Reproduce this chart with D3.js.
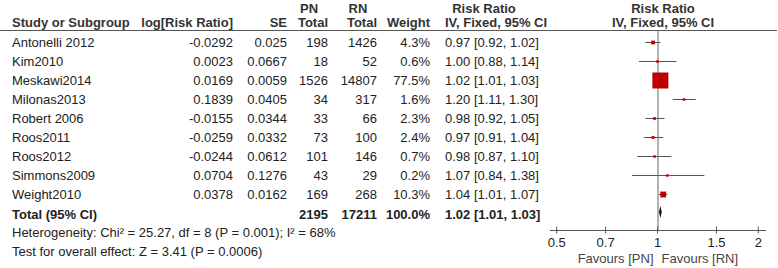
<!DOCTYPE html>
<html><head><meta charset="utf-8">
<script src="https://cdn.jsdelivr.net/npm/d3@7"></script>
<style>
body{margin:0;background:#fff;}
text{font-family:"Liberation Sans",Arial,sans-serif;font-size:13px;fill:#222;}
</style></head>
<body><svg id="c" width="778" height="268"></svg>
<script>
const studies = ["Antonelli 2012","Kim2010","Meskawi2014","Milonas2013","Robert 2006","Roos2011","Roos2012","Simmons2009","Weight2010"];
const logRR = ["-0.0292","0.0023","0.0169","0.1839","-0.0155","-0.0259","-0.0244","0.0704","0.0378"];
const seVals = ["0.025","0.0667","0.0059","0.0405","0.0344","0.0332","0.0612","0.1276","0.0162"];
const pnTotal = [198,18,1526,34,33,73,101,43,169];
const rnTotal = [1426,52,14807,317,66,100,146,29,268];
const weights = [4.3,0.6,77.5,1.6,2.3,2.4,0.7,0.2,10.3];
const rr = [0.97,1.00,1.02,1.20,0.98,0.97,0.98,1.07,1.04];
const lo = [0.92,0.88,1.01,1.11,0.92,0.91,0.87,0.84,1.01];
const hi = [1.02,1.14,1.03,1.30,1.05,1.04,1.10,1.38,1.07];
const total = {pn:2195, rn:17211, weight:100.0, rr:1.02, lo:1.01, hi:1.03};
const tickVals = [0.5,0.7,1,1.5,2];
const tickLabels = ["0.5","0.7","1","1.5","2"];

const svg = d3.select("#c");
const x = d3.scaleLog().domain([0.5,2]).range([556.7,758.3]);
const y = d3.scaleLinear().domain([0,8]).range([42,194]);
const fmt2 = d3.format(".2f");
const ciText = (a,b,c)=>`${fmt2(a)} [${fmt2(b)}, ${fmt2(c)}]`;

const cols = {study:12, log:233, se:287, pn:328, rn:377, w:430, ci:445};

function t(g,xx,yy,s,anchor,bold){
  const e = g.append("text").attr("x",xx).attr("y",yy).attr("text-anchor",anchor||"start").text(s);
  if(bold) e.style("font-weight","bold");
  return e;
}
// headers
const hdr = svg.append("g").style("font-weight","bold");
const hc = "#333";
[["PN",309,13,"middle"],["RN",358,13,"middle"],["Risk Ratio",484,13,"middle"],["Risk Ratio",663,13,"middle"],
 ["Study or Subgroup",cols.study,27,"start"],["log[Risk Ratio]",cols.log,27,"end"],["SE",cols.se,27,"end"],
 ["Total",cols.pn,27,"end"],["Total",cols.rn,27,"end"],["Weight",cols.w,27,"end"],["IV, Fixed, 95% CI",cols.ci,27,"start"],
 ["IV, Fixed, 95% CI",663,27,"middle"]].forEach(d=>t(hdr,d[1],d[2],d[0],d[3]).style("fill",hc));
svg.append("line").attr("x1",0).attr("x2",777).attr("y1",30.5).attr("y2",30.5).attr("stroke","#555").attr("stroke-width",1);

// rows
const rows = svg.append("g");
studies.forEach((s,i)=>{
  const yy = y(i)+4.5;
  t(rows,cols.study,yy,s);
  t(rows,cols.log,yy,logRR[i],"end");
  t(rows,cols.se,yy,seVals[i],"end");
  t(rows,cols.pn,yy,pnTotal[i],"end");
  t(rows,cols.rn,yy,rnTotal[i],"end");
  t(rows,cols.w,yy,weights[i].toFixed(1)+"%","end");
  t(rows,cols.ci,yy,ciText(rr[i],lo[i],hi[i]));
});
// total row
const ty = 218.5;
t(rows,cols.study,ty,"Total (95% CI)","start",true);
t(rows,cols.pn,ty,total.pn,"end",true);
t(rows,cols.rn,ty,total.rn,"end",true);
t(rows,cols.w,ty,total.weight.toFixed(1)+"%","end",true);
t(rows,cols.ci,ty,ciText(total.rr,total.lo,total.hi),"start",true);
t(rows,cols.study,237,"Heterogeneity: Chi\u00b2 = 25.27, df = 8 (P = 0.001); I\u00b2 = 68%");
t(rows,cols.study,256,"Test for overall effect: Z = 3.41 (P = 0.0006)");

// plot
const plot = svg.append("g");
const axisY = 230.5;
plot.append("line").attr("x1",x(1)+0.5).attr("x2",x(1)+0.5).attr("y1",31).attr("y2",axisY).attr("stroke","#666");
studies.forEach((s,i)=>{
  const yy = y(i)+0.5;
  plot.append("line").attr("x1",x(lo[i])).attr("x2",x(hi[i])).attr("y1",yy).attr("y2",yy).attr("stroke","#555");
  const side = Math.max(2.5,16*Math.sqrt(weights[i]/77.5));
  plot.append("rect").attr("x",x(rr[i])-side/2).attr("y",yy-side/2).attr("width",side).attr("height",side).attr("fill","#c00000");
});
// diamond
const dy = 212;
plot.append("path").attr("d",`M${x(total.lo)},${dy} L${x(total.rr)},${dy-6} L${x(total.hi)},${dy} L${x(total.rr)},${dy+6} Z`).attr("fill","#111");

// axis
plot.append("line").attr("x1",x(0.5)-7).attr("x2",x(2)+8).attr("y1",axisY).attr("y2",axisY).attr("stroke","#555");
const ax = plot.append("g");
tickVals.forEach((v,i)=>{
  ax.append("line").attr("x1",x(v)).attr("x2",x(v)).attr("y1",axisY-4).attr("y2",axisY+3).attr("stroke","#555");
  ax.append("text").attr("x",x(v)).attr("y",246.5).attr("text-anchor","middle").text(tickLabels[i]);
});
t(plot,x(1)-4,263,"Favours [PN]","end").style("fill","#444");
t(plot,x(1)+4,263,"Favours [RN]","start").style("fill","#444");
</script></body></html>
